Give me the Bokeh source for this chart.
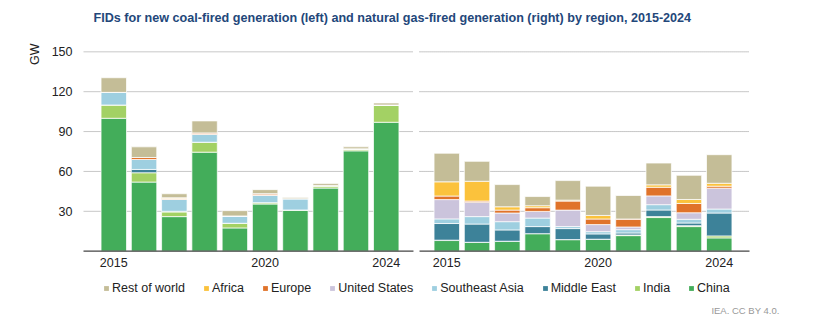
import numpy as np
from bokeh.plotting import figure
from bokeh.layouts import column
from bokeh.models import (ColumnDataSource, Range1d, FixedTicker, Legend, LegendItem, Title, Label)
from bokeh.embed import file_html
from bokeh.resources import INLINE

years = [2015, 2016, 2017, 2018, 2019, 2020, 2021, 2022, 2023, 2024]
regions = ["China", "India", "Middle East", "Southeast Asia", "United States", "Europe", "Africa", "Rest of world"]
colors = ["#43ad5a", "#a3d164", "#3d8299", "#9ecfe0", "#cbc4dc", "#e0732a", "#fbc23c", "#c4bd97"]

# Coal-fired FIDs (GW)
coal_china = [100, 52, 26, 74.5, 17.5, 35.5, 31, 47.5, 75.5, 97]
coal_india = [10, 7, 3.5, 7.5, 3.5, 1, 0, 1.5, 1.5, 13]
coal_me = [0, 2.5, 0.5, 0, 0, 0, 0, 0, 0, 0]
coal_sea = [9.5, 7.5, 9, 6, 5.5, 5.5, 8.5, 0.5, 0, 0]
coal_us = [0, 0, 0, 0, 0, 0, 0, 0, 0, 0]
coal_europe = [0, 1.5, 0.7, 1, 0, 1, 0, 0, 0, 0]
coal_africa = [0, 0, 0.5, 0, 0, 0.3, 0, 0, 0, 0]
coal_row = [11, 8, 3, 9, 4, 3, 0.8, 1.5, 1.5, 1.5]

# Gas-fired FIDs (GW)
gas_china = [8, 6.7, 7.5, 13.2, 8.7, 9, 11.7, 25.3, 18.5, 10]
gas_india = [0.3, 0, 0, 0, 0, 0, 0.5, 0.7, 0.7, 1.5]
gas_me = [12.5, 13.7, 8.5, 5.3, 8.3, 4, 1.5, 5, 2, 17.2]
gas_sea = [3.5, 5.6, 6.2, 6.4, 1.5, 1.7, 2.5, 4, 2.8, 3]
gas_us = [14.5, 10.9, 6.5, 5, 12.4, 5.3, 2, 6.6, 4.9, 15.7]
gas_europe = [2.7, 0.8, 2.2, 2.8, 6.8, 4.2, 6, 6.5, 7, 1.5]
gas_africa = [10.7, 14.9, 2.5, 1.5, 0.7, 2.7, 0, 1.8, 3, 2.2]
gas_row = [21.5, 15, 16.7, 6.9, 14.7, 22, 17.7, 16.4, 18.2, 21.5]

y_ticks = [30, 60, 90, 120, 150]
x_tick_years = [2015, 2020, 2024]

title_text = "FIDs for new coal-fired generation (left) and natural gas-fired generation (right) by region, 2015-2024"
credit_text = "IEA. CC BY 4.0."
FONT = "Liberation Sans"

yr = np.array(years)
left_x = (yr - years[0]).tolist()
right_offset = 11
right_x = (yr - years[0] + right_offset).tolist()

coal_src = ColumnDataSource(dict(x=left_x, **dict(zip(regions, [coal_china, coal_india, coal_me, coal_sea, coal_us, coal_europe, coal_africa, coal_row]))))
gas_src = ColumnDataSource(dict(x=right_x, **dict(zip(regions, [gas_china, gas_india, gas_me, gas_sea, gas_us, gas_europe, gas_africa, gas_row]))))

W = 814
LEFT = 83


def blank(h):
    f = figure(width=W, height=h, output_backend="svg", toolbar_location=None,
               x_range=Range1d(0, 1), y_range=Range1d(0, 1),
               x_axis_location=None, y_axis_location=None,
               min_border_left=LEFT, min_border_right=0, min_border_top=0, min_border_bottom=0)
    f.outline_line_color = None
    f.grid.visible = False
    return f


# ---- title strip ----
ft = blank(34)
ft.add_layout(Label(x=10, y=17, x_units="screen", y_units="screen", text=title_text,
                    text_font=FONT, text_font_style="bold", text_font_size="12.6px",
                    text_color="#23477a", text_baseline="middle", text_align="left"))

# ---- main chart ----
px_per_unit = 666 / 22.0
x_end = -1 + (W - LEFT) / px_per_unit
p = figure(width=W, height=238, output_backend="svg", toolbar_location=None,
           x_range=Range1d(-1, x_end), y_range=Range1d(-1, 151),
           min_border_left=LEFT, min_border_right=0, min_border_top=16, min_border_bottom=20)
p.outline_line_color = None
p.grid.visible = False

panels = [(-1.0, 9.9), (10.1, 21.0)]
for x0, x1 in panels:
    p.segment(x0=[x0] * len(y_ticks), x1=[x1] * len(y_ticks), y0=y_ticks, y1=y_ticks,
              line_color="#909090", line_width=1, line_dash="1 1")

coal_r = p.vbar_stack(regions, x="x", width=0.84, color=colors, line_color="white",
                      line_width=0.8, line_alpha=0.9, source=coal_src)
gas_r = p.vbar_stack(regions, x="x", width=0.84, color=colors, line_color="white",
                     line_width=0.8, line_alpha=0.9, source=gas_src)

for x0, x1 in panels:
    p.segment(x0=[x0], x1=[x1], y0=[0], y1=[0], line_color="#444444", line_width=1.3, level="overlay")

p.yaxis.ticker = FixedTicker(ticks=y_ticks)
p.yaxis.axis_line_color = None
p.yaxis.major_tick_line_color = None
p.yaxis.minor_tick_line_color = None
p.yaxis.major_tick_out = 0
p.yaxis.major_label_standoff = 11
p.yaxis.major_label_text_font = FONT
p.yaxis.major_label_text_font_size = "12.5px"
p.yaxis.major_label_text_color = "#222222"

xt = [y - years[0] for y in x_tick_years] + [y - years[0] + right_offset for y in x_tick_years]
p.xaxis.ticker = FixedTicker(ticks=xt)
p.xaxis.major_label_overrides = {t: str(lbl) for t, lbl in zip(xt, x_tick_years * 2)}
p.xaxis.axis_line_color = None
p.xaxis.major_tick_line_color = None
p.xaxis.minor_tick_line_color = None
p.xaxis.major_tick_out = 0
p.xaxis.major_label_standoff = 5
p.xaxis.major_label_text_font = FONT
p.xaxis.major_label_text_font_size = "12.5px"
p.xaxis.major_label_text_color = "#222222"

gw = Title(text="GW", align="right", offset=-7, standoff=14, text_font=FONT, text_font_style="normal",
           text_font_size="12.5px", text_color="#222222")
p.add_layout(gw, "left")

# ---- legend strip ----
fl = blank(51)
# invisible zero-height proxies that only carry the legend swatch colours
leg_r = [fl.vbar(x=[0.5], top=[0], width=0.01, fill_color=c, line_color=None) for c in colors]
items = [LegendItem(label=regions[i], renderers=[leg_r[i]]) for i in reversed(range(len(regions)))]
legend = Legend(items=items, orientation="horizontal", location=(20, 28),
                padding=0, margin=0, spacing=18, glyph_width=6, glyph_height=6, label_standoff=3,
                label_text_font=FONT, label_text_font_size="12.5px",
                label_text_color="#222222", border_line_color=None, background_fill_alpha=0)
fl.add_layout(legend, "center")
fl.add_layout(Label(x=779 - LEFT, y=13, x_units="screen", y_units="screen", text=credit_text,
                    text_font=FONT, text_font_size="9.5px", text_color="#999999",
                    text_baseline="middle", text_align="right"))

layout = column(ft, p, fl, spacing=0)
open("out.html", "w").write(file_html(layout, INLINE))
